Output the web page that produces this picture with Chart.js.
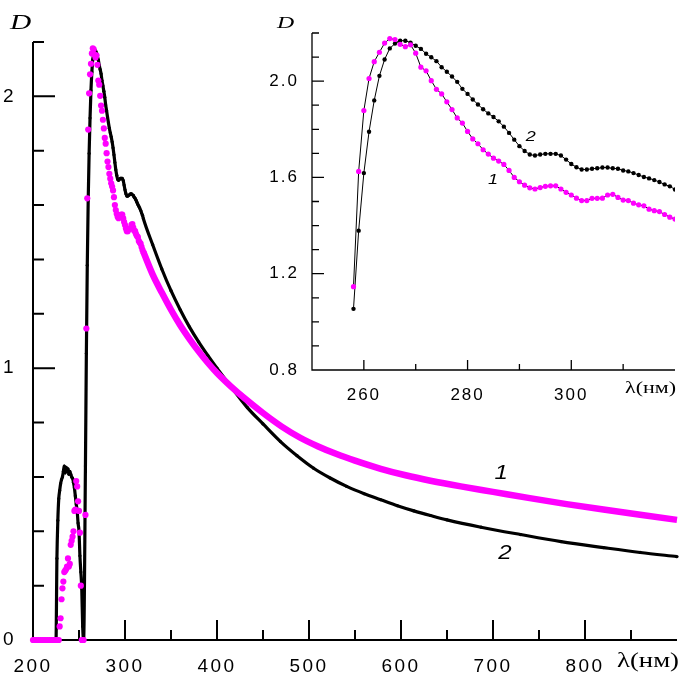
<!DOCTYPE html>
<html>
<head>
<meta charset="utf-8">
<script src="https://cdn.jsdelivr.net/npm/chart.js@4.4.1/dist/chart.umd.min.js"></script>
<style>
  html, body { margin: 0; padding: 0; background: #fff; }
  #wrap { position: relative; width: 685px; height: 676px; }
  #main { position: absolute; left: 0; top: 0; }
  #inset { position: absolute; left: 260px; top: 0; }
</style>
</head>
<body>
<div id="wrap">
  <canvas id="main" width="685" height="676"></canvas>
  <canvas id="inset" width="425" height="400"></canvas>
</div>
<script>
const MAGENTA = '#ff00ff';

// tick labels
const mainXLabels = [200, 300, 400, 500, 600, 700, 800];
const mainYLabels = [0, 1, 2];
const insetXLabels = [260, 280, 300];
const insetYLabels = [0.8, 1.2, 1.6, 2.0];

// curve 1 (magenta) and curve 2 (black), wavelength in nm, D
const wl1Low = [200, 202, 204, 206, 208, 210, 212, 214, 216, 218, 220, 222, 224, 226, 228,
  229, 230, 231, 232, 233, 234, 235, 236, 237, 238, 239, 240, 241, 242, 243, 244, 245, 246,
  247, 248, 249, 250, 251, 252, 253, 254, 255, 257];
const d1Low = [0, 0, 0, 0, 0, 0, 0, 0, 0, 0, 0, 0, 0, 0, 0,
  0.05, 0.08, 0.15, 0.19, 0.215, 0.25, 0.255, 0.26, 0.27, 0.30, 0.27, 0.28, 0.35, 0.365, 0.38,
  0.40, 0.475, 0.48, 0.585, 0.565, 0.51, 0.475, 0.395, 0.20, 0, 0, 0, 0.46];

const wlPeak = [258, 259, 260, 261, 262, 263, 264, 265, 266, 267, 268, 269, 270, 271, 272, 273,
  274, 275, 276, 277, 278, 279, 280, 281, 282, 283, 284, 285, 286, 287, 288, 289, 290, 291, 292,
  293, 294, 295, 296, 297, 298, 299, 300, 301, 302, 303, 304, 305, 306, 307, 308, 309, 310, 311,
  312, 313, 314, 315, 316, 317, 318, 319, 320];
const d1Peak = [1.146, 1.625, 1.878, 2.011, 2.081, 2.120, 2.158, 2.177, 2.173, 2.153, 2.143, 2.151,
  2.116, 2.058, 2.043, 2.002, 1.966, 1.947, 1.914, 1.882, 1.847, 1.826, 1.791, 1.760, 1.740, 1.715,
  1.697, 1.680, 1.668, 1.654, 1.629, 1.600, 1.582, 1.568, 1.557, 1.552, 1.558, 1.563, 1.565, 1.565,
  1.552, 1.538, 1.527, 1.514, 1.504, 1.504, 1.513, 1.513, 1.514, 1.527, 1.530, 1.517, 1.506, 1.504,
  1.493, 1.486, 1.482, 1.468, 1.462, 1.458, 1.446, 1.435, 1.427];
const d2Peak = [1.054, 1.379, 1.618, 1.790, 1.920, 2.022, 2.090, 2.136, 2.156, 2.168, 2.168, 2.160,
  2.147, 2.134, 2.114, 2.099, 2.083, 2.058, 2.039, 2.019, 1.997, 1.968, 1.947, 1.924, 1.903, 1.883,
  1.866, 1.851, 1.833, 1.811, 1.785, 1.757, 1.730, 1.710, 1.695, 1.691, 1.695, 1.698, 1.698, 1.698,
  1.691, 1.674, 1.656, 1.642, 1.633, 1.633, 1.636, 1.638, 1.641, 1.641, 1.638, 1.636, 1.629, 1.625,
  1.618, 1.610, 1.602, 1.596, 1.589, 1.581, 1.571, 1.563, 1.550];

const wl1Tail = [330, 340, 350, 360, 370, 380, 390, 400, 415, 430, 450, 470, 490, 510, 530, 550,
  578, 605, 632, 665, 700, 740, 780, 820, 860, 900];
const d1Tail = [1.345, 1.278, 1.215, 1.158, 1.108, 1.062, 1.02, 0.982, 0.933, 0.889, 0.835, 0.786,
  0.745, 0.712, 0.684, 0.66, 0.63, 0.606, 0.586, 0.565, 0.545, 0.522, 0.50, 0.48, 0.461, 0.442];

const wl2Low = [200, 205, 210, 215, 220, 225, 226, 227, 228, 229, 230, 231, 232, 233, 234, 235,
  236, 237, 238, 239, 240, 241, 242, 243, 244, 245, 246, 247, 248, 249, 250, 251, 252, 253, 254,
  255, 257];
const d2Low = [0, 0, 0, 0, 0, 0, 0.30, 0.44, 0.52, 0.55, 0.575, 0.59, 0.60, 0.62, 0.64, 0.615,
  0.635, 0.62, 0.63, 0.61, 0.62, 0.61, 0.60, 0.595, 0.58, 0.56, 0.53, 0.50, 0.475, 0.43, 0.40,
  0.31, 0.25, 0.19, 0.05, 0, 0.64];

const wl2Tail = [330, 340, 350, 360, 370, 380, 390, 400, 415, 433, 450, 469, 487, 505, 523, 541,
  560, 578, 596, 614, 632, 650, 687, 730, 774, 820, 860, 900];
const d2Tail = [1.455, 1.365, 1.285, 1.215, 1.152, 1.097, 1.047, 1.0, 0.933, 0.855, 0.795, 0.730,
  0.678, 0.632, 0.596, 0.565, 0.538, 0.516, 0.494, 0.475, 0.458, 0.442, 0.415, 0.388, 0.362,
  0.34, 0.322, 0.307];

function toPoints(xs, ys) {
  return xs.map((x, i) => ({ x: x, y: ys[i] }));
}

const pts1 = toPoints(wl1Low.concat(wlPeak, wl1Tail), d1Low.concat(d1Peak, d1Tail));
const pts2 = toPoints(wl2Low.concat(wlPeak, wl2Tail), d2Low.concat(d2Peak, d2Tail));
const inset1 = toPoints(wlPeak, d1Peak);
const inset2 = toPoints(wlPeak, d2Peak);

function isMajor(v, step) {
  const r = v / step;
  return Math.abs(r - Math.round(r)) < 1e-6;
}

function hasLabel(list, v) {
  return list.some(l => Math.abs(l - v) < 1e-6);
}

// draws text stretched horizontally by k
function drawText(c, text, font, x, y, k, align, baseline) {
  c.save();
  c.font = font;
  c.textAlign = align || 'left';
  c.textBaseline = baseline || 'alphabetic';
  c.translate(x, y);
  c.scale(k, 1);
  c.fillText(text, 0, 0);
  c.restore();
}

// axes drawn by hand: ticks point inwards like in the paper figure
function makeFrame(cfg) {
  return {
    id: 'frame',
    beforeDraw(chart) {
      chart.ctx.letterSpacing = cfg.spacing;
    },
    beforeDatasetsDraw(chart) {
      const c = chart.ctx, a = chart.chartArea;
      const sx = chart.scales.x, sy = chart.scales.y;
      c.save();
      c.strokeStyle = '#000';
      c.lineWidth = cfg.axisWidth;
      c.beginPath();
      c.moveTo(a.left, a.top);
      c.lineTo(a.left, a.bottom);
      c.lineTo(a.right, a.bottom);
      c.stroke();
      c.lineWidth = cfg.tickWidth;
      c.beginPath();
      sx.ticks.forEach(t => {
        if (t.value <= sx.min + 1e-9 || t.value >= sx.max - 1e-9) return;
        const p = sx.getPixelForValue(t.value);
        const len = isMajor(t.value, cfg.xStep) ? cfg.xTick[0] : cfg.xTick[1];
        c.moveTo(p, a.bottom);
        c.lineTo(p, a.bottom - len);
      });
      sy.ticks.forEach(t => {
        if (t.value <= sy.min + 1e-9) return;
        const p = sy.getPixelForValue(t.value);
        const len = isMajor(t.value, cfg.yStep) ? cfg.yTick[0] : cfg.yTick[1];
        c.moveTo(a.left, p);
        c.lineTo(a.left + len, p);
      });
      c.stroke();
      c.restore();
    },
    afterDraw(chart) {
      const c = chart.ctx;
      c.save();
      c.letterSpacing = '0px';
      c.fillStyle = '#000';
      cfg.texts.forEach(t => {
        c.font = t.font;
        const k = t.width ? t.width / c.measureText(t.text).width : t.k;
        drawText(c, t.text, t.font, t.x, t.y, k);
      });
      cfg.curveLabels.forEach(t => {
        const px = chart.scales.x.getPixelForValue(t.x);
        const py = chart.scales.y.getPixelForValue(t.y);
        drawText(c, t.text, cfg.curveFont, px, py, 1.2, 'center', 'middle');
      });
      c.restore();
    }
  };
}

new Chart(document.getElementById('main'), {
  type: 'scatter',
  data: {
    datasets: [
      {
        label: '1',
        data: pts1,
        showLine: true,
        borderColor: MAGENTA,
        borderWidth: 6.5,
        cubicInterpolationMode: 'monotone',
        pointRadius: ctx => (ctx.raw && ctx.raw.x > 320 ? 0 : 3.1),
        pointBackgroundColor: MAGENTA,
        pointBorderWidth: 0,
        clip: 8,
        segment: {
          borderColor: ctx => (ctx.p0.parsed.x >= 320 ? MAGENTA : 'rgba(0,0,0,0)')
        }
      },
      {
        label: '2',
        data: pts2,
        showLine: true,
        borderColor: '#000',
        borderWidth: 3.2,
        cubicInterpolationMode: 'monotone',
        pointRadius: 1.6,
        pointBackgroundColor: '#000',
        pointBorderWidth: 0,
        clip: 8
      }
    ]
  },
  options: {
    responsive: false,
    animation: false,
    events: [],
    layout: { padding: { left: 0, top: 42, right: 8, bottom: 0 } },
    plugins: { legend: { display: false }, tooltip: { enabled: false } },
    scales: {
      x: {
        type: 'linear',
        min: 200,
        max: 900,
        afterFit: s => { s.height = 36; },
        grid: { display: false },
        border: { display: false },
        ticks: {
          stepSize: 50,
          autoSkip: false,
          maxRotation: 0,
          maxTicksLimit: 100,
          padding: 7,
          color: '#000',
          font: { family: '"Liberation Sans", Arial', size: 19 },
          callback: v => (hasLabel(mainXLabels, v) ? String(v) : '')
        }
      },
      y: {
        type: 'linear',
        min: 0,
        max: 2.2,
        afterFit: s => { s.width = 33; },
        grid: { display: false },
        border: { display: false },
        ticks: {
          stepSize: 0.2,
          autoSkip: false,
          maxTicksLimit: 100,
          padding: 9,
          color: '#000',
          font: { family: '"Liberation Sans", Arial', size: 19 },
          callback: v => (hasLabel(mainYLabels, v) ? String(Math.round(v)) : '')
        }
      }
    }
  },
  plugins: [makeFrame({
    spacing: '2.5px',
    axisWidth: 2,
    tickWidth: 2,
    xStep: 100, yStep: 1,
    xTick: [20, 10], yTick: [22, 11],
    curveFont: 'italic 20px "Liberation Sans"',
    texts: [
      { text: 'D', font: 'italic 21px "Liberation Serif"', x: 10, y: 29, k: 1.4 },
      { text: 'λ(нм)', font: '21px "Liberation Serif"', x: 617, y: 667, width: 62 }
    ],
    curveLabels: [
      { text: '1', x: 709, y: 0.611 },
      { text: '2', x: 713, y: 0.32 }
    ]
  })]
});

new Chart(document.getElementById('inset'), {
  type: 'scatter',
  data: {
    datasets: [
      {
        label: '1',
        data: inset1,
        showLine: true,
        borderColor: '#000',
        borderWidth: 1,
        pointRadius: 2.6,
        pointBackgroundColor: MAGENTA,
        pointBorderWidth: 0
      },
      {
        label: '2',
        data: inset2,
        showLine: true,
        borderColor: '#000',
        borderWidth: 1,
        pointRadius: 2.2,
        pointBackgroundColor: '#000',
        pointBorderWidth: 0
      }
    ]
  },
  options: {
    responsive: false,
    animation: false,
    events: [],
    layout: { padding: { left: 0, top: 33, right: 10, bottom: 0 } },
    plugins: { legend: { display: false }, tooltip: { enabled: false } },
    scales: {
      x: {
        type: 'linear',
        min: 250,
        max: 320,
        afterFit: s => { s.height = 30; },
        grid: { display: false },
        border: { display: false },
        ticks: {
          stepSize: 10,
          autoSkip: false,
          maxRotation: 0,
          maxTicksLimit: 100,
          padding: 7,
          color: '#000',
          font: { family: '"Liberation Sans", Arial', size: 17 },
          callback: v => (hasLabel(insetXLabels, v) ? String(v) : '')
        }
      },
      y: {
        type: 'linear',
        min: 0.8,
        max: 2.2,
        afterFit: s => { s.width = 52; },
        grid: { display: false },
        border: { display: false },
        ticks: {
          stepSize: 0.1,
          autoSkip: false,
          maxTicksLimit: 100,
          padding: 5,
          color: '#000',
          font: { family: '"Liberation Sans", Arial', size: 17 },
          callback: v => (hasLabel(insetYLabels, v) ? v.toFixed(1) : '')
        }
      }
    }
  },
  plugins: [makeFrame({
    spacing: '2px',
    axisWidth: 1.3,
    tickWidth: 1.3,
    xStep: 20, yStep: 0.4,
    xTick: [10, 6], yTick: [12, 7],
    curveFont: 'italic 15px "Liberation Sans"',
    texts: [
      { text: 'D', font: 'italic 17px "Liberation Serif"', x: 17, y: 28, k: 1.4 },
      { text: 'λ(нм)', font: '17px "Liberation Serif"', x: 365, y: 393, width: 51 }
    ],
    curveLabels: [
      { text: '1', x: 284.9, y: 1.588 },
      { text: '2', x: 292.2, y: 1.769 }
    ]
  })]
});
</script>
</body>
</html>
